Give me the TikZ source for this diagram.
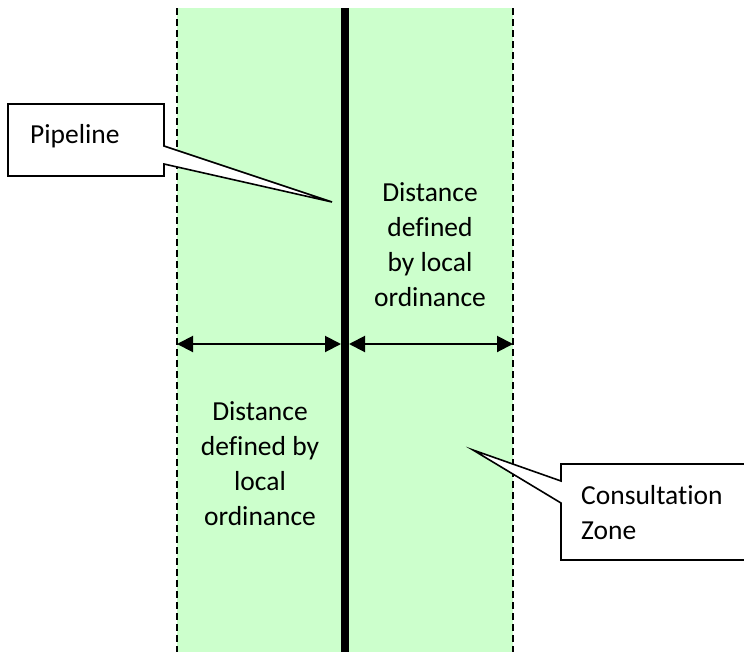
\documentclass[tikz,border=0pt]{standalone}
\usepackage{fontspec}
\setmainfont[Ligatures=NoCommon]{Carlito}
\usetikzlibrary{arrows.meta}
\definecolor{zonegreen}{HTML}{CCFFCC}
\begin{document}
\begin{tikzpicture}[
	x=1pt,y=-1pt,
	>={Triangle[length=16pt,width=16pt]},
	zoneedge/.style={line width=1.6pt,dash pattern=on 7pt off 4pt},
	callout/.style={draw,fill=white,line width=1.6pt,line join=miter},
	txt/.style={align=center,inner sep=0pt,font=\fontsize{27.5}{35}\selectfont}
	]
	\clip (0,0) rectangle (744,651);
	\fill[zonegreen] (177,8) rectangle (513,660);
	\draw[zoneedge] (177,8) -- (177,660);
	\draw[zoneedge] (513,8) -- (513,660);
	\draw[line width=7.5pt] (345,8) -- (345,660);
	% distance arrows
	\coordinate (leftedge) at (177,344);
	\coordinate (pipeleft) at (341,344);
	\coordinate (piperight) at (349,344);
	\coordinate (rightedge) at (513,344);
	\begin{scope}[<->,line width=2pt]
		\draw (leftedge) -- (pipeleft);
		\draw (piperight) -- (rightedge);
	\end{scope}
	\node[txt] (rightdist) at (430,245) {Distance\\defined\\by local\\ordinance};
	\node[txt] (leftdist) at (260,464) {Distance\\defined by\\local\\ordinance};
	% callouts
	\coordinate (pipetip) at (332,202);
	\draw[callout] (8,104) -- (164,104) -- (164,146) -- (pipetip) -- (164,164) -- (164,176) -- (8,176) -- cycle;
	\node[txt,anchor=west] (pipeline) at (30,136) {Pipeline};
	\coordinate (zonetip) at (473,450);
	\draw[callout] (561,464) -- (760,464) -- (760,560) -- (561,560) -- (561,503) -- (zonetip) -- (561,481) -- cycle;
	\node[txt,anchor=west,align=left] (zone) at (581,513) {Consultation\\Zone};
\end{tikzpicture}
\end{document}
